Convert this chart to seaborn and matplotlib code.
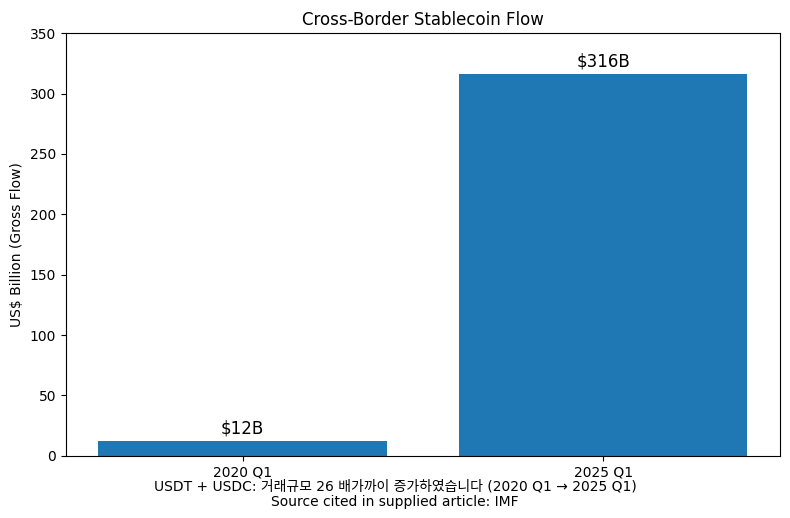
import matplotlib
matplotlib.use("Agg")
import matplotlib.pyplot as plt
import seaborn as sns
import pandas as pd

# data
periods = ["2020 Q1", "2025 Q1"]
flow_bn = [12, 316]
bar_labels = ["$12B", "$316B"]

df = pd.DataFrame({"period": periods, "flow": flow_bn})

fig, ax = plt.subplots(figsize=(7.9, 5.18), dpi=100)
sns.barplot(data=df, x="period", y="flow", color="#1f77b4", saturation=1,
            width=0.8, ax=ax)
ax.set_xlim(-0.49, 1.49)
ax.set_ylim(0, 350)
ax.bar_label(ax.containers[0], labels=bar_labels, padding=3, fontsize=12)

ax.set_title("Cross-Border Stablecoin Flow", fontsize=12)
ax.set_xlabel("")
ax.set_ylabel("US$ Billion (Gross Flow)")

fig.text(0.5, 0.018,
         "USDT + USDC: 거래규모 26 배가까이 증가하였습니다 (2020 Q1 → 2025 Q1)\n"
         "Source cited in supplied article: IMF",
         ha="center", va="bottom", fontsize=10,
         family=["DejaVu Sans", "Noto Sans CJK KR"], linespacing=1.1)

fig.subplots_adjust(left=0.0835, right=0.987, top=0.936, bottom=0.12)
fig.savefig("out.png", dpi=100)
